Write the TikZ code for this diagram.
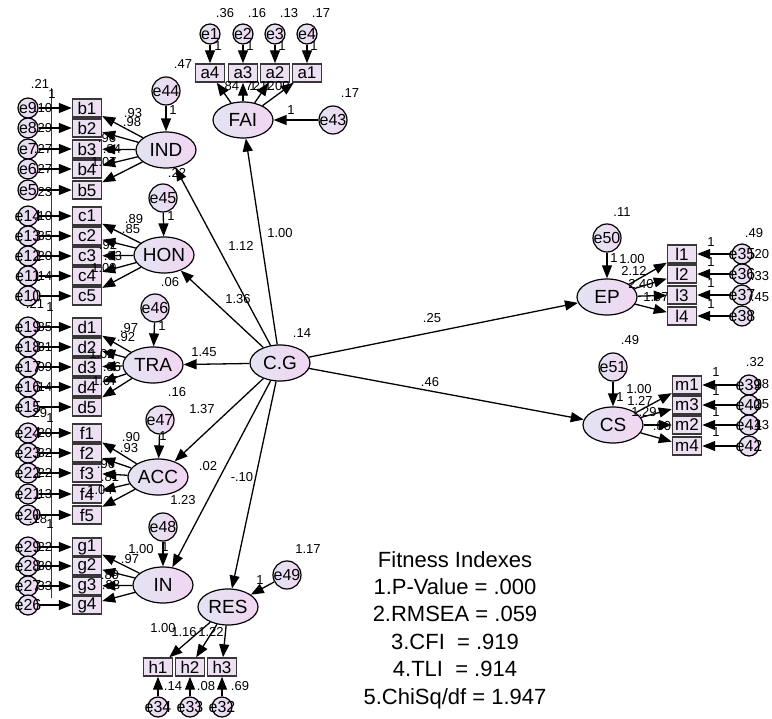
\documentclass[tikz,border=0pt]{standalone}
\usepackage{fontspec}
\setmainfont{Liberation Sans}
\usetikzlibrary{arrows.meta,shapes.geometric}
\definecolor{lc}{RGB}{226,228,242}
\definecolor{rc}{RGB}{242,214,242}
\definecolor{bc}{RGB}{236,224,242}
\definecolor{bd}{RGB}{55,55,55}
\begin{document}
\begin{tikzpicture}[x=1pt,y=-1pt,
 lat/.style={ellipse,draw,line width=1.2pt,left color=lc,right color=rc,minimum width=60pt,minimum height=36pt,inner sep=0pt,font=\fontsize{19}{19}\selectfont},
 obs/.style={rectangle,draw=bd,line width=1.4pt,fill=bc,minimum width=29pt,minimum height=18pt,inner sep=0pt,font=\fontsize{17}{17}\selectfont},
 lerr/.style={circle,draw,line width=1.2pt,left color=lc,right color=rc,minimum size=28pt,inner sep=0pt},
 serr/.style={circle,draw,line width=1.2pt,left color=lc,right color=rc,minimum size=20pt,inner sep=0pt},
 etxt/.style={inner sep=0pt,font=\fontsize{16}{16}\selectfont},
 num/.style={inner sep=0pt,font=\fontsize{13}{13}\selectfont},
 arr/.style={draw,line width=1.3pt,-{Triangle[length=13pt,width=10pt]}},
]
\useasboundingbox (0,0) rectangle (772,719);
\draw[line width=0.6pt,bd] (51,88) coordinate (vt) -- (51,598) coordinate (vb);

% ---------- latent nodes
\node[lat] (CG) at (280,363) {C.G};
\node[lat] (FAI) at (243,120) {FAI};
\node[lat] (IND) at (166,150) {IND};
\node[lat] (HON) at (164,255) {HON};
\node[lat] (TRA) at (153,365) {TRA};
\node[lat] (ACC) at (158,477) {ACC};
\node[lat] (IN) at (163,585) {IN};
\node[lat] (RES) at (228,607) {RES};
\node[lat] (EP) at (607,297) {EP};
\node[lat] (CS) at (613,425) {CS};

% ---------- latent errors
\foreach \n/\x/\y in {e43/333/120,e44/166/91,e45/163/198,e46/155/308,e47/160/420,e48/163/527,e49/287/575,e50/607/238,e51/613/367}{
  \node[lerr] (\n) at (\x,\y) {};
  \node[etxt] at (\n) {\n};
}
\draw[arr] (e43) -- (FAI);
\draw[arr] (e44) -- (IND);
\draw[arr] (e45) -- (HON);
\draw[arr] (e46) -- (TRA);
\draw[arr] (e47) -- (ACC);
\draw[arr] (e48) -- (IN);
\draw[arr] (e49) -- (RES);
\draw[arr] (e50) -- (EP);
\draw[arr] (e51) -- (CS);

% ---------- structural paths
\foreach \t in {FAI,IND,HON,TRA,ACC,IN,RES,EP,CS}{\draw[arr] (CG) -- (\t);}

% ---------- FAI indicators
\foreach \b/\e/\x in {a4/e1/210,a3/e2/243,a2/e3/275,a1/e4/307}{
  \node[obs] (\b) at (\x,73) {\b};
  \node[serr] (\e) at (\x,34) {};
  \node[etxt] at (\e) {\e};
  \draw[arr] (\e) -- (\b);
  \draw[arr] (FAI) -- (\b);
}

% ---------- left indicator groups
\foreach \lv/\list in {IND/{b1/e9/108,b2/e8/128,b3/e7/149,b4/e6/169,b5/e5/190},
                      HON/{c1/e14/216,c2/e13/236,c3/e12/256,c4/e11/276,c5/e10/296},
                      TRA/{d1/e19/327,d2/e18/347,d3/e17/367,d4/e16/387,d5/e15/407},
                      ACC/{f1/e24/433,f2/e23/453,f3/e22/473,f4/e21/494,f5/e20/515},
                      IN/{g1/e29/547,g2/e28/566,g3/e27/586,g4/e26/605}}{
  \foreach \b/\e/\y in \list{
    \node[obs] (\b) at (87,\y) {\b};
    \node[serr] (\e) at (28,\y) {};
    \node[etxt] at (\e) {\e};
    \draw[arr] (\e) -- (\b);
    \draw[arr] (\lv) -- (\b);
  }
}

% ---------- RES indicators
\foreach \b/\e/\x in {h1/e34/158,h2/e33/190,h3/e32/222}{
  \node[obs] (\b) at (\x,667) {\b};
  \node[serr] (\e) at (\x,707) {};
  \node[etxt] at (\e) {\e};
  \draw[arr] (\e) -- (\b);
  \draw[arr] (RES) -- (\b);
}

% ---------- EP indicators
\foreach \b/\e/\y in {l1/e35/254,l2/e36/274,l3/e37/295,l4/e38/316}{
  \node[obs] (\b) at (682,\y) {\b};
  \node[serr] (\e) at (742,\y) {};
  \node[etxt] at (\e) {\e};
  \draw[arr] (\e) -- (\b);
  \draw[arr] (EP) -- (\b);
}
% ---------- CS indicators
\foreach \b/\e/\y in {m1/e39/385,m3/e40/405,m2/e41/425,m4/e42/446}{
  \node[obs] (\b) at (687,\y) {\b};
  \node[serr] (\e) at (749,\y) {};
  \node[etxt] at (\e) {\e};
  \draw[arr] (\e) -- (\b);
  \draw[arr] (CS) -- (\b);
}

% ---------- numbers
\foreach \t/\x/\y in {
 .36/225/13,.16/257/13,.13/289/13,.17/321/13,
 1/218/46,1/250/46,1/282/46,1/314/46,
 .47/183/64,.84/230/86,.72/251/86,1.12/262/86,1.00/277/86,
 .17/350/93,1/291/110,
 .21/40/84,1/52/94,
 .10/43/108,.29/43/128,.27/43/149,.27/43/169,.23/43/192,
 .93/133/113,.98/132/122,.96/107/138,.84/112/149,1.07/104/162,
 1/173/110,.22/177/173,
 .10/43/216,.35/43/236,.20/43/256,.14/43/276,
 .21/35/304,1/50/307,
 .89/134/219,.85/131/229,.92/108/245,.83/113/256,1.09/104/268,
 1/171/216,.06/170/282,
 .35/43/327,.31/43/347,.09/43/367,.14/43/387,
 .29/38/413,1/50/418,
 .97/129/328,.92/126/337,1.02/102/354,.86/112/367,1.07/105/381,
 1/162/326,.16/177/392,
 .20/43/433,.32/43/453,.22/43/473,.13/43/494,
 .18/38/519,1/50/524,
 .90/131/437,.93/129/448,.96/106/464,.81/110/477,1.04/100/490,
 1/163/436,1.23/183/500,
 .22/43/547,.30/43/566,.33/43/586,
 1.00/141/549,.97/130/559,.89/110/575,.88/111/585,
 1/165/547,
 1.00/163/628,1.16/184/632,1.22/211/632,.14/173/686,.08/206/686,.69/240/686,
 1/260/580,1.17/308/549,
 .14/302/333,
 1.00/280/233,1.12/241/246,1.36/238/299,1.45/204/352,1.37/202/409,.02/208/466,-.10/242/477,
 .25/432/318,.46/430/382,
 .11/622/212,1/614/258,1.00/632/259,2.12/634/271,2.40/641/284,1.97/656/297,
 .49/754/233,1/711/242,1/711/262,1/711/283,1/711/304,
 .20/760/254,.33/760/276,.45/760/297,
 .49/630/340,1/620/397,1.00/639/389,1.27/640/401,1.29/644/412,.80/662/426,
 .32/755/362,1/716/372,1/716/391,1/716/412,1/716/432,
 .28/760/384,.25/760/404,.43/760/425}{
  \node[num] at (\x,\y) {\t};
}

% ---------- fitness indexes
\node[align=center,inner sep=0pt,font=\fontsize{22}{27.4}\selectfont] (fit) at (455,630)
 {Fitness Indexes\\1.P-Value = .000\\2.RMSEA = .059\\3.CFI\ \ = .919\\4.TLI\ \ = .914\\5.ChiSq/df = 1.947};
\end{tikzpicture}
\end{document}
